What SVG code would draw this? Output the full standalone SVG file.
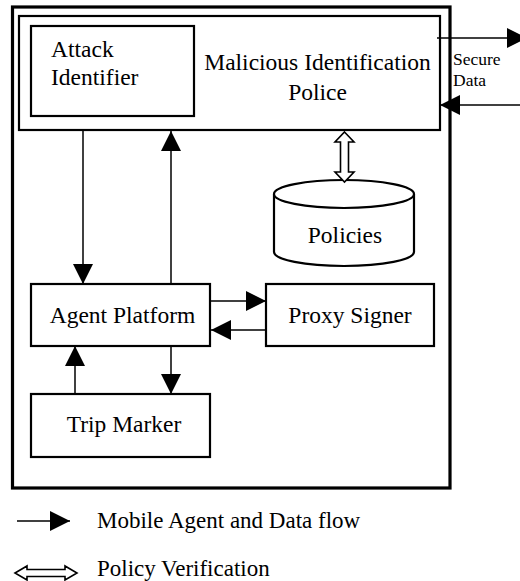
<svg xmlns="http://www.w3.org/2000/svg" width="520" height="581" viewBox="0 0 520 581">
<style>
.box{fill:#fff;stroke:#000;stroke-width:2.2}
.lbl{font-family:"Liberation Serif","Times New Roman",serif;font-size:23.5px;fill:#000}
.sm{font-family:"Liberation Serif","Times New Roman",serif;font-size:17.5px;fill:#000}
.ln{stroke:#000;stroke-width:1.5;fill:none;marker-end:url(#ah)}
.dbl{fill:#fff;stroke:#000;stroke-width:1.6}
</style>
<defs>
<marker id="ah" markerUnits="userSpaceOnUse" markerWidth="20" markerHeight="20" viewBox="0 0 20 20" refX="20" refY="10" orient="auto">
<path d="M0,0 L20,10 L0,20 z" fill="#000"/>
</marker>
</defs>
<rect id="outer" x="12.5" y="7" width="437.5" height="481" fill="#fff" stroke="#000" stroke-width="3.2"/>
<g id="malicious-identification-police">
<rect class="box" x="19" y="16" width="421" height="114"/>
<text class="lbl" x="317.5" y="70" text-anchor="middle">Malicious Identification</text>
<text class="lbl" x="317.5" y="100" text-anchor="middle">Police</text>
</g>
<g id="attack-identifier">
<rect class="box" x="31" y="26" width="163" height="90" stroke-width="2.5"/>
<text class="lbl" x="51" y="57">Attack</text>
<text class="lbl" x="51" y="85">Identifier</text>
</g>
<g id="policies">
<path d="M274,194 L274,252 A70,14 0 0 0 414,252 L414,194" fill="#fff" stroke="#000" stroke-width="2.2"/>
<ellipse cx="344" cy="194" rx="70" ry="14" fill="#fff" stroke="#000" stroke-width="2.2"/>
<text class="lbl" x="345" y="243" text-anchor="middle">Policies</text>
</g>
<g id="agent-platform">
<rect class="box" x="31" y="284" width="179" height="62"/>
<text class="lbl" x="122.5" y="323" text-anchor="middle">Agent Platform</text>
</g>
<g id="proxy-signer">
<rect class="box" x="266" y="284" width="168" height="62"/>
<text class="lbl" x="350" y="323" text-anchor="middle">Proxy Signer</text>
</g>
<g id="trip-marker">
<rect class="box" x="31" y="394" width="179" height="63"/>
<text class="lbl" x="124" y="432" text-anchor="middle">Trip Marker</text>
</g>
<g id="connectors">
<line class="ln" x1="83" y1="130" x2="83" y2="284"/>
<line class="ln" x1="171" y1="284" x2="171" y2="131"/>
<line class="ln" x1="210" y1="301" x2="266" y2="301"/>
<line class="ln" x1="266" y1="330" x2="211" y2="330"/>
<line class="ln" x1="75" y1="394" x2="75" y2="346"/>
<line class="ln" x1="171" y1="346" x2="171" y2="394"/>
<line class="ln" x1="437" y1="38" x2="527" y2="38"/>
<line class="ln" x1="521" y1="105" x2="440" y2="105"/>
<polygon class="dbl" points="344.5,132 354,142 348.5,142 348.5,172 354,172 344.5,182 335,172 340.5,172 340.5,142 335,142"/>
<text class="sm" x="453" y="65">Secure</text>
<text class="sm" x="453" y="86">Data</text>
</g>
<g id="legend">
<line class="ln" x1="17" y1="521" x2="70" y2="521"/>
<text class="lbl" x="97" y="528" style="font-size:23px">Mobile Agent and Data flow</text>
<polygon class="dbl" points="15,573 27,566 27,569.5 65,569.5 65,566 77,573 65,580 65,576.5 27,576.5 27,580"/>
<text class="lbl" x="97" y="576" style="font-size:23px">Policy Verification</text>
</g>
</svg>
